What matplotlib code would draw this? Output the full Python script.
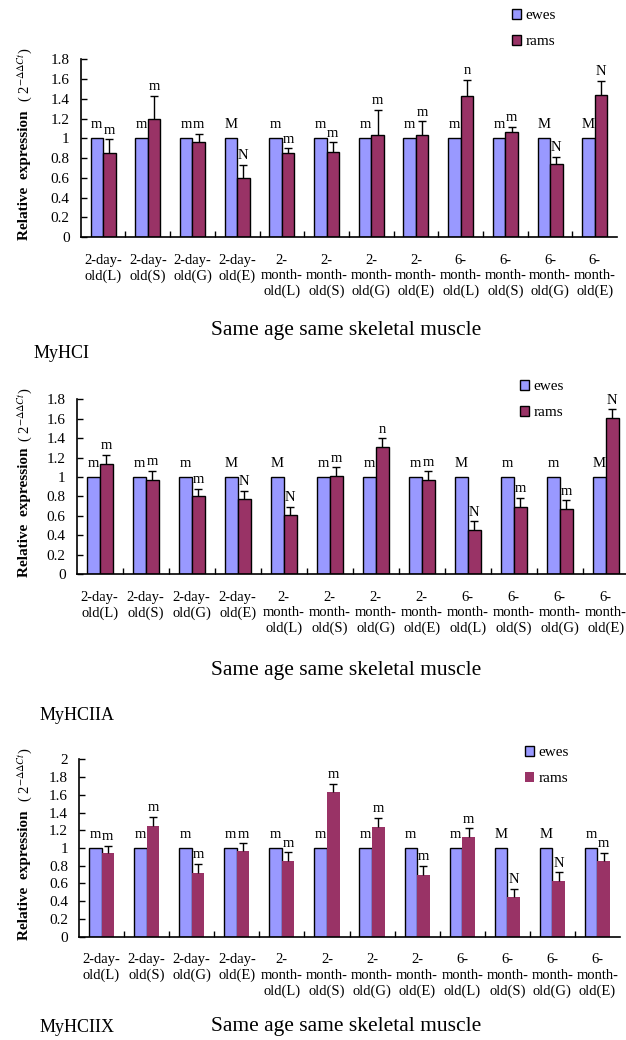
import matplotlib
matplotlib.use("Agg")
import matplotlib.pyplot as plt
from matplotlib.patches import Patch
import numpy as np

plt.rcParams['font.family'] = ['Liberation Serif', 'Noto Sans CJK SC', 'DejaVu Sans']
plt.rcParams['mathtext.fontset'] = 'stix'

groups = ["2-day-\nold(L)", "2-day-\nold(S)", "2-day-\nold(G)", "2-day-\nold(E)",
          "2-\nmonth-\nold(L)", "2-\nmonth-\nold(S)", "2-\nmonth-\nold(G)", "2-\nmonth-\nold(E)",
          "6-\nmonth-\nold(L)", "6-\nmonth-\nold(S)", "6-\nmonth-\nold(G)", "6-\nmonth-\nold(E)"]
ewes = [1.0] * 12

# MyHCI
rams_1 = [0.85, 1.20, 0.96, 0.60, 0.85, 0.86, 1.03, 1.03, 1.43, 1.06, 0.74, 1.44]
err_1 = [0.14, 0.23, 0.085, 0.13, 0.05, 0.10, 0.26, 0.14, 0.16, 0.055, 0.075, 0.14]
ewe_tag_1 = ["m", "m", "m", "M", "m", "m", "m", "m", "m", "m", "M", "M"]
ram_tag_1 = ["m", "m", "m", "N", "m", "m", "m", "m", "n", "m", "N", "N"]

# MyHCIIA
rams_2 = [1.13, 0.97, 0.80, 0.77, 0.61, 1.01, 1.31, 0.97, 0.455, 0.695, 0.67, 1.605]
err_2 = [0.10, 0.095, 0.08, 0.09, 0.08, 0.09, 0.09, 0.09, 0.09, 0.09, 0.09, 0.09]
ewe_tag_2 = ["m", "m", "m", "M", "M", "m", "m", "m", "M", "m", "m", "M"]
ram_tag_2 = ["m", "m", "m", "N", "N", "m", "n", "m", "N", "m", "m", "N"]

# MyHCIIX
rams_3 = [0.94, 1.25, 0.72, 0.97, 0.85, 1.63, 1.24, 0.70, 1.12, 0.445, 0.625, 0.85]
err_3 = [0.085, 0.10, 0.10, 0.085, 0.10, 0.095, 0.10, 0.10, 0.10, 0.095, 0.10, 0.095]
ewe_tag_3 = ["m", "m", "m", "m", "m", "m", "m", "m", "m", "M", "M", "m"]
ram_tag_3 = ["m", "m", "m", "m", "m", "m", "m", "m", "m", "N", "N", "m"]

EWE = "#9999FF"
RAM = "#993366"
W, H = 626, 1040

fig = plt.figure(figsize=(W / 100, H / 100), dpi=100)
renderer = fig.canvas.get_renderer()


def bold_ylabel(x, y, target_px):
    # pick the font size whose rotated label comes closest to target_px long
    best = None
    for fs in (11, 11.5, 12, 12.5):
        t = fig.text(x, y, "Relative  expression", rotation=90, ha="center",
                     va="bottom", fontsize=fs, fontweight="bold")
        h = t.get_window_extent(renderer).height
        t.remove()
        if best is None or abs(h - target_px) < abs(best[1] - target_px):
            best = (fs, h)
    fig.text(x, y, "Relative  expression", rotation=90, ha="center", va="bottom",
             fontsize=best[0], fontweight="bold")


def panel(left, bottom, top, width, ymax, rams, errs, ewe_tags, ram_tags,
          title, title_xy, xlab_y, leg_xy, ram_edge=True):
    ax = fig.add_axes([left / W, 1 - bottom / H, width / W, (bottom - top) / H])
    x = np.arange(len(groups))
    bw = 0.28
    ax.bar(x - bw / 2, ewes, bw, color=EWE, edgecolor="black", linewidth=1.0, zorder=2)
    ax.bar(x + bw / 2, rams, bw, color=RAM,
           edgecolor="black" if ram_edge else RAM, linewidth=1.0 if ram_edge else 0, zorder=2)
    eb = ax.errorbar(x + bw / 2, rams, yerr=[np.zeros(len(errs)), errs], fmt="none",
                     ecolor="black", elinewidth=1.0, capsize=3, capthick=1.0, zorder=3)
    eb[1][0].set_visible(False)  # upper caps only
    for i in range(len(groups)):
        ax.annotate(ewe_tags[i], (x[i] - bw / 2, ewes[i]), xytext=(0, 7.5),
                    textcoords="offset points", ha="center", va="baseline", fontsize=10.5)
        ax.annotate(ram_tags[i], (x[i] + bw / 2, rams[i] + errs[i]), xytext=(0, 4),
                    textcoords="offset points", ha="center", va="baseline", fontsize=10.5)
    ax.set_xlim(-0.5, len(groups) - 0.5)
    ax.set_ylim(0, ymax)
    yt = np.arange(0, ymax + 0.01, 0.2)
    ax.set_yticks(yt)
    ax.set_yticklabels([f"{v:g}" for v in yt], fontsize=11)
    ax.set_xticks(x)
    ax.set_xticklabels(groups, fontsize=10.5, linespacing=1.25)
    ax.set_xticks(np.arange(0.5, len(groups) - 1, 1.0), minor=True)
    ax.tick_params(axis="x", which="major", length=0, pad=12)
    ax.tick_params(axis="x", which="minor", direction="in", length=4, width=1)
    ax.tick_params(axis="y", direction="in", length=4, width=1, pad=8)
    for s in ["top", "right"]:
        ax.spines[s].set_visible(False)
    for s in ["left", "bottom"]:
        ax.spines[s].set_linewidth(1.2)
    bold_ylabel(25 / W, 1 - (bottom + 3) / H, 122)
    fig.text(25 / W, 1 - (top - 12) / H, r"( 2$^{-\Delta\Delta Ct}$)", rotation=90,
             ha="center", va="top", fontsize=10.5)
    fig.text(346 / W, 1 - xlab_y / H, "Same age same skeletal muscle",
             ha="center", va="center", fontsize=15.5)
    fig.text(title_xy[0] / W, 1 - title_xy[1] / H, title, ha="left", va="center", fontsize=13)
    handles = [Patch(facecolor=EWE, edgecolor="black", linewidth=1.0),
               Patch(facecolor=RAM, edgecolor="black" if ram_edge else RAM,
                     linewidth=1.0 if ram_edge else 0)]
    fig.legend(handles, ["ewes", "rams"], loc="upper left",
               bbox_to_anchor=(leg_xy[0] / W, 1 - leg_xy[1] / H), frameon=False,
               fontsize=11, handlelength=0.6, handleheight=0.6, handletextpad=0.3,
               labelspacing=0.85, borderpad=0, borderaxespad=0)
    return ax


panel(80.7, 237, 59.3, 536.4, 1.8, rams_1, err_1, ewe_tag_1, ram_tag_1,
      "MyHCI", (34, 353), 330, (512, 9))
panel(76.7, 574, 399.3, 552, 1.8, rams_2, err_2, ewe_tag_2, ram_tag_2,
      "MyHCIIA", (40, 715), 670, (520, 380))
panel(79, 936.7, 759.3, 541, 2.0, rams_3, err_3, ewe_tag_3, ram_tag_3,
      "MyHCIIX", (40, 1027), 1027, (525, 746), ram_edge=False)

fig.savefig("out.png", dpi=100)
